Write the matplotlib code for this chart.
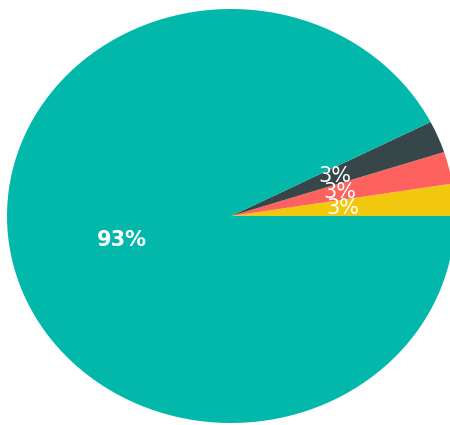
import matplotlib
matplotlib.use("Agg")
import matplotlib.pyplot as plt

# slice values, counter-clockwise from 3 o'clock
categories = ["D", "C", "B", "A"]
values = [1, 1, 1, 37]
colors = ["#F2C80F", "#FD625E", "#374649", "#01B8AA"]


def pct_label(p):
    # round half up like the original tool does
    return "%d%%" % int(p + 0.5)


fig = plt.figure(figsize=(4.5, 4.25), dpi=100)
ax = fig.add_axes([7 / 450, 2 / 425, 448 / 450, 414 / 425])

wedges, texts, autotexts = ax.pie(values, colors=colors, startangle=0, counterclock=True,
                                  autopct=pct_label, pctdistance=0.5, radius=1,
                                  wedgeprops={"linewidth": 0},
                                  textprops={"color": "white", "fontsize": 15})
autotexts[-1].set_fontweight("bold")

ax.set_aspect("auto")
ax.set_xlim(-1, 1)
ax.set_ylim(-1, 1)
ax.axis("off")

fig.savefig("out.png", dpi=100)
